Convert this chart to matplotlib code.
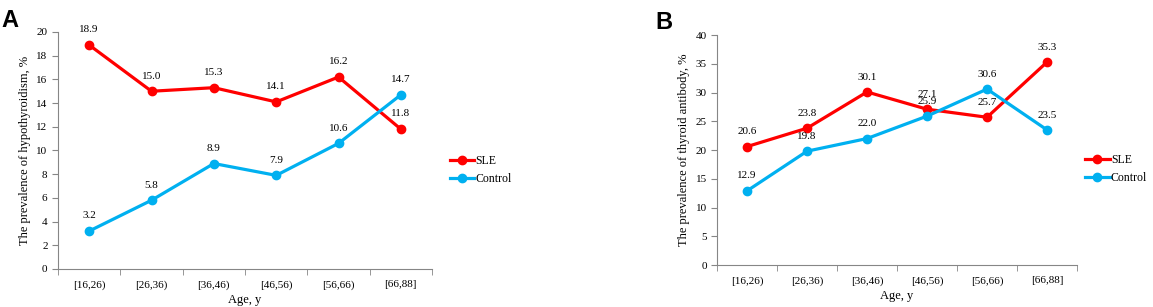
import matplotlib
matplotlib.use("Agg")
import matplotlib.pyplot as plt
import numpy as np

# data
age_groups = ["[16,26)", "[26,36)", "[36,46)", "[46,56)", "[56,66)", "[66,88]"]
hypo_sle = [18.9, 15.0, 15.3, 14.1, 16.2, 11.8]
hypo_control = [3.2, 5.8, 8.9, 7.9, 10.6, 14.7]
ab_sle = [20.6, 23.8, 30.1, 27.1, 25.7, 35.3]
ab_control = [12.9, 19.8, 22.0, 25.9, 30.6, 23.5]

plt.rcParams['font.family'] = ['Liberation Serif', 'DejaVu Serif']
red = '#FF0000'
blue = '#00B0F0'
axis_col = '#868686'

fig = plt.figure(figsize=(11.53, 3.07), dpi=100)
axA = fig.add_axes([0.0503, 0.1238, 0.3244, 0.772])
axB = fig.add_axes([0.6219, 0.1368, 0.3122, 0.749])


def draw_panel(ax, sle, ctrl, ymax, ystep, ylabel, legend_pos):
    x = np.arange(len(age_groups))
    l1, = ax.plot(x, sle, color=red, lw=2.3, marker='o', ms=6, label='SLE')
    l2, = ax.plot(x, ctrl, color=blue, lw=2.3, marker='o', ms=6, label='Control')
    off = ymax * 0.045
    for xi, v in zip(x, sle):
        ax.text(xi, v + off, f"{v:.1f}", ha='center', va='bottom', fontsize=8)
    for xi, v in zip(x, ctrl):
        ax.text(xi, v + off, f"{v:.1f}", ha='center', va='bottom', fontsize=8)
    ax.set_xlim(-0.5, len(age_groups) - 0.5)
    ax.set_ylim(0, ymax)
    ax.set_yticks(np.arange(0, ymax + 0.1, ystep))
    ax.set_xticks(x)
    ax.set_xticklabels(age_groups)
    ax.set_xticks(np.arange(-0.5, len(age_groups)), minor=True)
    ax.tick_params(axis='x', which='major', length=0, labelsize=8, pad=8)
    ax.tick_params(axis='x', which='minor', length=4, color=axis_col)
    ax.tick_params(axis='y', length=4, color=axis_col, labelsize=8)
    for s in ['top', 'right']:
        ax.spines[s].set_visible(False)
    for s in ['left', 'bottom']:
        ax.spines[s].set_color(axis_col)
    ax.set_xlabel("Age, y", fontsize=9, labelpad=3)
    ax.set_ylabel(ylabel, fontsize=9)
    fig.legend(handles=[l1, l2], loc='center left', bbox_to_anchor=legend_pos,
               frameon=False, fontsize=8.5, handlelength=2.1, handletextpad=0.1,
               labelspacing=0.5, borderpad=0, borderaxespad=0)


draw_panel(axA, hypo_sle, hypo_control, 20, 2,
           "The prevalence of hypothyroidism, %", (0.390, 0.445))
draw_panel(axB, ab_sle, ab_control, 40, 5,
           "The prevalence of thyroid antibody, %", (0.941, 0.45))

fig.text(0.001, 0.97, "A", fontsize=17, fontweight='bold', family='Liberation Sans',
         va='top')
fig.text(0.568, 0.965, "B", fontsize=17, fontweight='bold', family='Liberation Sans',
         va='top')

fig.savefig("out.png", dpi=100)
